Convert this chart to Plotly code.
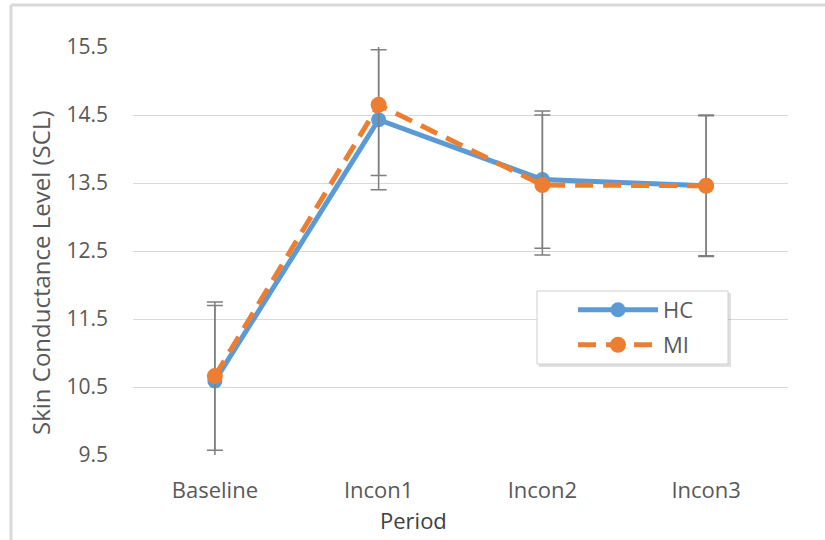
import plotly.graph_objects as go

periods = ["Baseline", "Incon1", "Incon2", "Incon3"]
hc_mean = [10.59, 14.43, 13.55, 13.46]
hc_err = [1.11, 1.03, 1.01, 1.03]
mi_mean = [10.66, 14.65, 13.47, 13.46]
mi_err = [1.09, 1.04, 1.03, 1.04]
y_ticks = [9.5, 10.5, 11.5, 12.5, 13.5, 14.5, 15.5]
y_tick_labels = ["9.5", "10.5", "11.5", "12.5", "13.5", "14.5", "15.5"]

BLUE = "#5B9BD5"
ORANGE = "#ED7D31"
ERR = "#7F7F7F"
FONT = "Open Sans"

fig = go.Figure()
fig.add_trace(go.Scatter(
    x=periods, y=hc_mean, name="HC", mode="lines+markers",
    line=dict(color=BLUE, width=5),
    marker=dict(color=BLUE, size=15),
    error_y=dict(type="data", array=hc_err, color=ERR, thickness=1.5, width=8),
    legend="legend", showlegend=True,
))
fig.add_trace(go.Scatter(
    x=periods, y=mi_mean, name="MI", mode="lines+markers",
    line=dict(color=ORANGE, width=5, dash="18px,10px"),
    marker=dict(color=ORANGE, size=16),
    error_y=dict(type="data", array=mi_err, color=ERR, thickness=1.5, width=8),
    legend="legend2", showlegend=True,
))

L, R, T, B = 133, 37, 47, 85
W, H = 825, 540
pw, ph = W - L - R, H - T - B


def px(x):
    return (x - L) / pw


def py(y):
    return (H - B - y) / ph


shapes = [
    # outer frame (top and left edges)
    dict(type="line", xref="paper", yref="paper", x0=px(11), x1=px(825), y0=py(5), y1=py(5),
         line=dict(color="#D9D9D9", width=3)),
    dict(type="line", xref="paper", yref="paper", x0=px(11), x1=px(11), y0=py(5), y1=py(540),
         line=dict(color="#D9D9D9", width=3)),
    # legend shadow and box
    dict(type="rect", xref="paper", yref="paper", x0=px(539), x1=px(731), y0=py(367), y1=py(293),
         fillcolor="rgba(0,0,0,0.12)", line=dict(width=0), layer="above"),
    dict(type="rect", xref="paper", yref="paper", x0=px(537), x1=px(728), y0=py(364), y1=py(291),
         fillcolor="white", line=dict(color="#D0D0D0", width=1), layer="above"),
]

annotations = [
    dict(text="Skin Conductance Level (SCL)", xref="paper", yref="paper",
         x=px(40), y=py(273), xanchor="center", yanchor="middle",
         textangle=-90, showarrow=False,
         font=dict(family=FONT, size=24, color="#595959")),
    dict(text="Period", xref="paper", yref="paper", x=px(413), y=py(520),
         xanchor="center", yanchor="middle",
         showarrow=False, font=dict(family=FONT, size=22, color="#404040")),
]

legend_common = dict(bgcolor="rgba(0,0,0,0)", borderwidth=0, visible=True,
                     font=dict(family=FONT, size=22, color="#595959"),
                     xanchor="left", yanchor="middle", itemwidth=80)

fig.update_layout(
    width=W, height=H,
    margin=dict(l=L, r=R, t=T, b=B),
    paper_bgcolor="white", plot_bgcolor="white",
    font=dict(family=FONT, color="#595959"),
    showlegend=True,
    xaxis=dict(range=[-0.5, 3.5], showgrid=False, showline=False, zeroline=False,
               ticks="", tickfont=dict(family=FONT, size=22, color="#595959"),
               ticklabelstandoff=20),
    yaxis=dict(range=[9.5, 15.5], tickvals=y_ticks, ticktext=y_tick_labels,
               showgrid=True, gridcolor="#D9D9D9", gridwidth=1, zeroline=False,
               showline=False, ticks="",
               tickfont=dict(family=FONT, size=21, color="#595959"),
               ticklabelstandoff=24),
    legend=dict(x=px(573), y=py(310), **legend_common),
    legend2=dict(x=px(573), y=py(345), **legend_common),
    shapes=shapes,
    annotations=annotations,
)

fig.write_html("out.html", config={"displayModeBar": False},
               post_script="document.body.style.margin='0';")
